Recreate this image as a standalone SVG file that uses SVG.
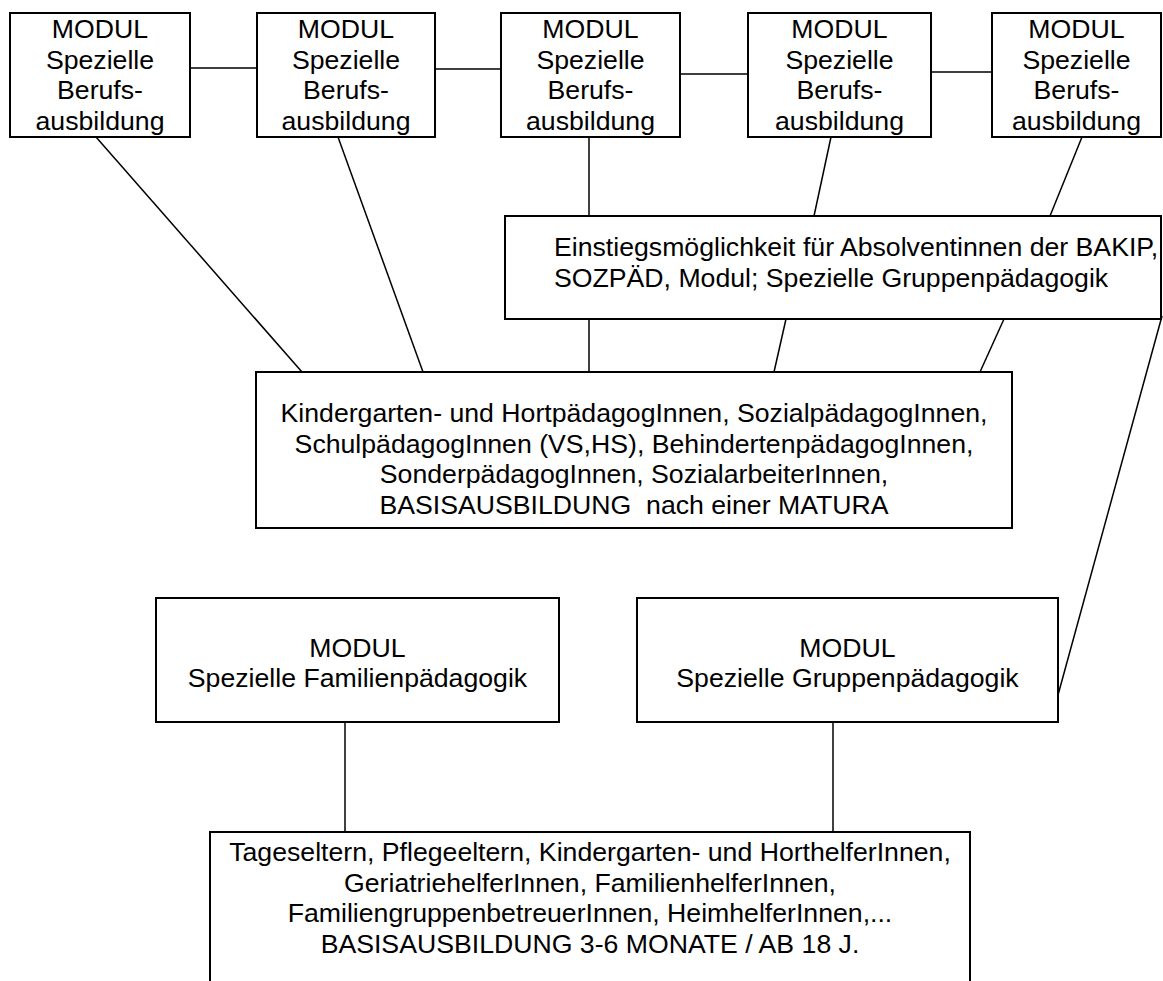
<svg xmlns="http://www.w3.org/2000/svg" width="1163" height="981" viewBox="0 0 1163 981">
<style>
.box{fill:#fff;stroke:#000;stroke-width:2}
.t{font-family:"Liberation Sans",Arial,sans-serif;font-size:26.67px;fill:#000}
.c{text-anchor:middle}
.ln{stroke:#000;stroke-width:1.5;fill:none}
</style>
<rect width="1163" height="981" fill="#fff"/>
<g id="connectors">
<line class="ln" x1="190" y1="68" x2="257" y2="68"/>
<line class="ln" x1="435" y1="69" x2="501" y2="69"/>
<line class="ln" x1="680" y1="74" x2="748" y2="74"/>
<line class="ln" x1="931" y1="72" x2="992" y2="72"/>
<line class="ln" x1="96" y1="137" x2="302" y2="372"/>
<line class="ln" x1="338" y1="137" x2="423" y2="372"/>
<line class="ln" x1="589" y1="137" x2="589" y2="216"/>
<line class="ln" x1="831" y1="137" x2="814" y2="216"/>
<line class="ln" x1="1082" y1="137" x2="1050" y2="216"/>
<line class="ln" x1="589" y1="319" x2="589" y2="372"/>
<line class="ln" x1="786" y1="319" x2="774" y2="372"/>
<line class="ln" x1="1004" y1="319" x2="980" y2="372"/>
<line class="ln" x1="1162" y1="316" x2="1058" y2="695"/>
<line class="ln" x1="345" y1="722" x2="345" y2="832"/>
<line class="ln" x1="833" y1="722" x2="833" y2="832"/>
</g>
<g id="m1"><rect class="box" x="10" y="13" width="180" height="124"/>
<text class="t c" x="100" y="38">MODUL</text><text class="t c" x="100" y="68.5">Spezielle</text><text class="t c" x="100" y="99">Berufs-</text><text class="t c" x="100" y="129.5">ausbildung</text></g>
<g id="m2"><rect class="box" x="257" y="13" width="178" height="124"/>
<text class="t c" x="346" y="38">MODUL</text><text class="t c" x="346" y="68.5">Spezielle</text><text class="t c" x="346" y="99">Berufs-</text><text class="t c" x="346" y="129.5">ausbildung</text></g>
<g id="m3"><rect class="box" x="501" y="13" width="179" height="124"/>
<text class="t c" x="590.5" y="38">MODUL</text><text class="t c" x="590.5" y="68.5">Spezielle</text><text class="t c" x="590.5" y="99">Berufs-</text><text class="t c" x="590.5" y="129.5">ausbildung</text></g>
<g id="m4"><rect class="box" x="748" y="13" width="183" height="124"/>
<text class="t c" x="839.5" y="38">MODUL</text><text class="t c" x="839.5" y="68.5">Spezielle</text><text class="t c" x="839.5" y="99">Berufs-</text><text class="t c" x="839.5" y="129.5">ausbildung</text></g>
<g id="m5"><rect class="box" x="992" y="13" width="169" height="124"/>
<text class="t c" x="1076.5" y="38">MODUL</text><text class="t c" x="1076.5" y="68.5">Spezielle</text><text class="t c" x="1076.5" y="99">Berufs-</text><text class="t c" x="1076.5" y="129.5">ausbildung</text></g>
<g id="einstieg"><rect class="box" x="505" y="216" width="656" height="103"/>
<text class="t" x="554" y="256">Einstiegsmöglichkeit für Absolventinnen der BAKIP,</text>
<text class="t" x="554" y="286.5">SOZPÄD, Modul; Spezielle Gruppenpädagogik</text></g>
<g id="basis"><rect class="box" x="256" y="372" width="756" height="156"/>
<text class="t c" x="634" y="422">Kindergarten- und HortpädagogInnen, SozialpädagogInnen,</text>
<text class="t c" x="634" y="452.5">SchulpädagogInnen (VS,HS), BehindertenpädagogInnen,</text>
<text class="t c" x="634" y="483">SonderpädagogInnen, SozialarbeiterInnen,</text>
<text class="t c" x="634" y="513.5" xml:space="preserve">BASISAUSBILDUNG  nach einer MATURA</text></g>
<g id="familien"><rect class="box" x="156" y="598" width="403" height="124"/>
<text class="t c" x="357.5" y="657">MODUL</text>
<text class="t c" x="357.5" y="687">Spezielle Familienpädagogik</text></g>
<g id="gruppen"><rect class="box" x="637" y="598" width="421" height="124"/>
<text class="t c" x="847.5" y="657">MODUL</text>
<text class="t c" x="847.5" y="687">Spezielle Gruppenpädagogik</text></g>
<g id="tages"><rect class="box" x="210" y="832" width="760" height="180"/>
<text class="t c" x="590" y="861">Tageseltern, Pflegeeltern, Kindergarten- und HorthelferInnen,</text>
<text class="t c" x="590" y="891.5">GeriatriehelferInnen, FamilienhelferInnen,</text>
<text class="t c" x="590" y="922">FamiliengruppenbetreuerInnen, HeimhelferInnen,...</text>
<text class="t c" x="590" y="952.5">BASISAUSBILDUNG 3-6 MONATE / AB 18 J.</text></g>
</svg>
